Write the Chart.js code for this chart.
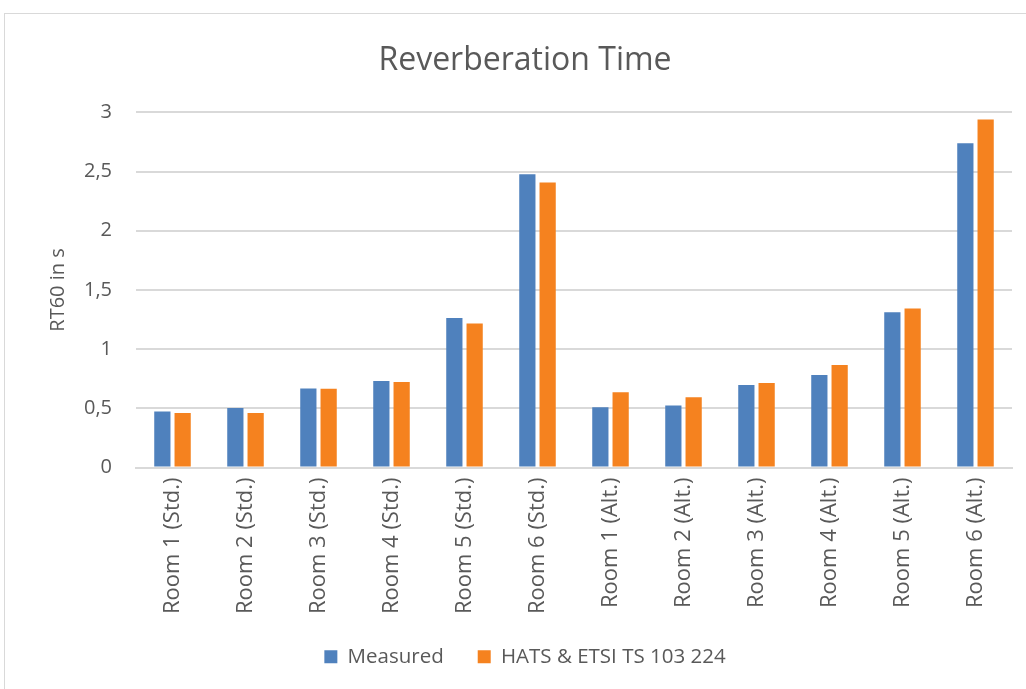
<!DOCTYPE html>
<html>
<head>
<meta charset="utf-8">
<script src="https://cdn.jsdelivr.net/npm/chart.js@4/dist/chart.umd.min.js"></script>
<style>
  html, body { margin: 0; padding: 0; background: #fff; overflow: hidden; width: 1026px; height: 689px; }
  #frame { position: absolute; left: 4px; top: 13px; width: 1060px; height: 700px; border: 1px solid #d9d9d9; box-sizing: border-box; }
  #wrap { position: absolute; left: 0; top: 0; width: 1050px; height: 689px; }
</style>
</head>
<body>
<div id="frame"></div>
<div id="wrap"><canvas id="c" width="1050" height="689"></canvas></div>
<script>
const categories = ["Room 1 (Std.)", "Room 2 (Std.)", "Room 3 (Std.)", "Room 4 (Std.)", "Room 5 (Std.)", "Room 6 (Std.)",
                    "Room 1 (Alt.)", "Room 2 (Alt.)", "Room 3 (Alt.)", "Room 4 (Alt.)", "Room 5 (Alt.)", "Room 6 (Alt.)"];
const measured = [0.474, 0.502, 0.668, 0.730, 1.264, 2.477, 0.509, 0.523, 0.697, 0.781, 1.312, 2.739];
const hats     = [0.460, 0.460, 0.665, 0.722, 1.217, 2.407, 0.635, 0.593, 0.714, 0.865, 1.343, 2.941];
const seriesNames = ["Measured", "HATS & ETSI TS 103 224"];
const yTicks = [0, 0.5, 1, 1.5, 2, 2.5, 3];

const FONT = "'Open Sans', sans-serif";
const TXT = "#595959";
const PAD_BOTTOM = 12;
const PLOT_BOTTOM = 467.5;

new Chart(document.getElementById("c"), {
  type: "bar",
  data: {
    labels: categories,
    datasets: [
      { label: seriesNames[0], data: measured, backgroundColor: "#4F81BD", borderWidth: 0 },
      { label: seriesNames[1], data: hats, backgroundColor: "#F5821F", borderWidth: 0 }
    ]
  },
  options: {
    responsive: false,
    animation: false,
    devicePixelRatio: 1,
    layout: { padding: { left: 0, right: 0, top: 0, bottom: PAD_BOTTOM } },
    datasets: { bar: { barPercentage: 0.8, categoryPercentage: 0.556 } },
    plugins: {
      title: {
        display: true,
        text: "Reverberation Time",
        color: TXT,
        font: { family: FONT, size: 32, weight: "normal", lineHeight: 1.2 },
        padding: { top: 42, bottom: 32 }
      },
      legend: {
        position: "bottom",
        labels: {
          color: TXT,
          font: { family: FONT, size: 20.5 },
          boxWidth: 13,
          boxHeight: 13,
          padding: 34
        }
      },
      tooltip: { enabled: false }
    },
    scales: {
      x: {
        grid: { display: false, drawTicks: false },
        border: { display: true, color: "#d9d9d9", width: 2 },
        afterFit: (s) => {
          const lg = s.chart.legend ? s.chart.legend.height : 0;
          s.height = s.chart.height - PAD_BOTTOM - lg - PLOT_BOTTOM;
        },
        ticks: {
          color: TXT,
          font: { family: FONT, size: 22 },
          minRotation: 90,
          maxRotation: 90,
          padding: 10,
          autoSkip: false
        }
      },
      y: {
        min: 0,
        max: 3,
        afterBuildTicks: (s) => { s.ticks = yTicks.map(v => ({ value: v })); },
        afterFit: (s) => { s.width = 136; },
        grid: { color: "#d9d9d9", lineWidth: 2, drawTicks: false },
        border: { display: false },
        ticks: {
          color: TXT,
          font: { family: FONT, size: 20 },
          padding: 24,
          callback: (v) => String(v).replace(".", ",")
        },
        title: {
          display: true,
          text: "RT60 in s",
          color: TXT,
          font: { family: FONT, size: 20, lineHeight: 1.2 },
          padding: { top: 46, bottom: 0 }
        }
      },
      yRight: {
        position: "right",
        display: true,
        min: 0,
        max: 3,
        afterFit: (s) => { s.width = 38; },
        grid: { display: false, drawTicks: false },
        border: { display: false },
        ticks: { display: false }
      }
    }
  }
});
</script>
</body>
</html>
